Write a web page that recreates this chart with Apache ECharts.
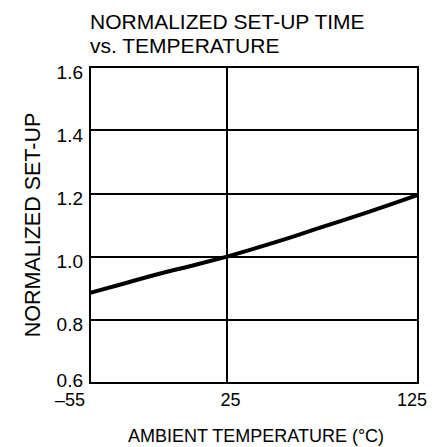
<!DOCTYPE html>
<html>
<head>
<meta charset="utf-8">
<script src="https://cdn.jsdelivr.net/npm/echarts@6/dist/echarts.min.js"></script>
<style>
html,body{margin:0;padding:0;background:#fff;}
#c{width:438px;height:447px;}
</style>
</head>
<body>
<div id="c"></div>
<script>
const titleLines = ['NORMALIZED SET-UP TIME', 'vs. TEMPERATURE'];
const xAxisTitle = 'AMBIENT TEMPERATURE (°C)';
const yAxisTitle = 'NORMALIZED SET-UP';
const temperatures = [-55, -35, -15, 5, 25, 50, 75, 100, 125];
const setupTime = [0.885, 0.915, 0.945, 0.972, 1.0, 1.045, 1.094, 1.143, 1.195];
const xTickValues = [-55, 25, 125];
const xTickLabels = ['–55', '25', '125'];
const yMin = 0.6, yMax = 1.6, yStep = 0.2;

const FONT = 'Liberation Sans, Arial, Helvetica, sans-serif';
const pivot = xTickValues[1];
const lowPts = [], highPts = [];
temperatures.forEach((t, i) => {
  if (t <= pivot) lowPts.push([t, setupTime[i]]);
  if (t >= pivot) highPts.push([t, setupTime[i]]);
});
const labelFor = v => xTickLabels[xTickValues.indexOf(v)];

const chart = echarts.init(document.getElementById('c'), null, {renderer: 'svg'});
const gridStyle = {show: true, borderColor: '#000', borderWidth: 2, top: 67, height: 316};
const yCommon = {
  type: 'value', min: yMin, max: yMax, interval: yStep,
  axisLine: {show: true, onZero: false, lineStyle: {color: '#000', width: 2}},
  axisTick: {show: false},
  splitLine: {show: true, lineStyle: {color: '#000', width: 2}}
};
const xLine = {show: true, onZero: false, lineStyle: {color: '#000', width: 2}};
chart.setOption({
  animation: false,
  backgroundColor: '#fff',
  title: {
    text: titleLines.join('\n'), left: 90, top: 10, padding: 0,
    textStyle: {fontFamily: FONT, fontSize: 21, fontWeight: 'normal', color: '#000', lineHeight: 23.5}
  },
  graphic: [{
    type: 'text', x: 256, y: 436,
    style: {text: xAxisTitle, fontFamily: FONT, fontSize: 18, fill: '#000', align: 'center', verticalAlign: 'middle'}
  }],
  grid: [
    Object.assign({left: 90, width: 137}, gridStyle),
    Object.assign({left: 227, width: 191}, gridStyle)
  ],
  xAxis: [{
    gridIndex: 0, type: 'value', min: xTickValues[0], max: xTickValues[1], interval: xTickValues[1] - xTickValues[0],
    axisLine: xLine, axisTick: {show: false}, splitLine: {show: false},
    axisLabel: {
      margin: 8, color: '#000', fontFamily: FONT, fontSize: 18,
      formatter: v => v === xTickValues[0] ? '{l|' + labelFor(v) + '}' : '{m|' + labelFor(v) + '}',
      rich: {
        l: {fontFamily: FONT, fontSize: 18, color: '#000', padding: [0, 40, 0, 0]},
        m: {fontFamily: FONT, fontSize: 18, color: '#000', padding: [0, 0, 0, 7]}
      }
    }
  }, {
    gridIndex: 1, type: 'value', min: xTickValues[1], max: xTickValues[2], interval: xTickValues[2] - xTickValues[1],
    axisLine: xLine, axisTick: {show: false}, splitLine: {show: false},
    axisLabel: {
      margin: 8, color: '#000', fontFamily: FONT, fontSize: 18,
      formatter: v => v === xTickValues[2] ? '{r|' + labelFor(v) + '}' : '',
      rich: {r: {fontFamily: FONT, fontSize: 18, color: '#000', padding: [0, 12, 0, 0]}}
    }
  }],
  yAxis: [Object.assign({
    gridIndex: 0,
    name: yAxisTitle, nameLocation: 'middle', nameGap: 46,
    nameTextStyle: {fontFamily: FONT, fontSize: 21.5, color: '#000'},
    axisLabel: {
      margin: 7, color: '#000', fontFamily: FONT, fontSize: 19,
      formatter: v => Math.abs(v - yMin) < 1e-6 ? '{b|' + v.toFixed(1) + '}' : '{a|' + v.toFixed(1) + '}',
      rich: {
        a: {fontFamily: FONT, fontSize: 19, color: '#000', padding: [10, 0, 0, 0]},
        b: {fontFamily: FONT, fontSize: 19, color: '#000', padding: [0, 0, 6, 0]}
      }
    }
  }, yCommon), Object.assign({gridIndex: 1, axisLabel: {show: false}}, yCommon)],
  series: [{
    type: 'line', xAxisIndex: 0, yAxisIndex: 0, data: lowPts, smooth: true,
    showSymbol: false, lineStyle: {color: '#000', width: 4}, clip: false
  }, {
    type: 'line', xAxisIndex: 1, yAxisIndex: 1, data: highPts, smooth: true,
    showSymbol: false, lineStyle: {color: '#000', width: 4}, clip: false
  }]
});
</script>
</body>
</html>
